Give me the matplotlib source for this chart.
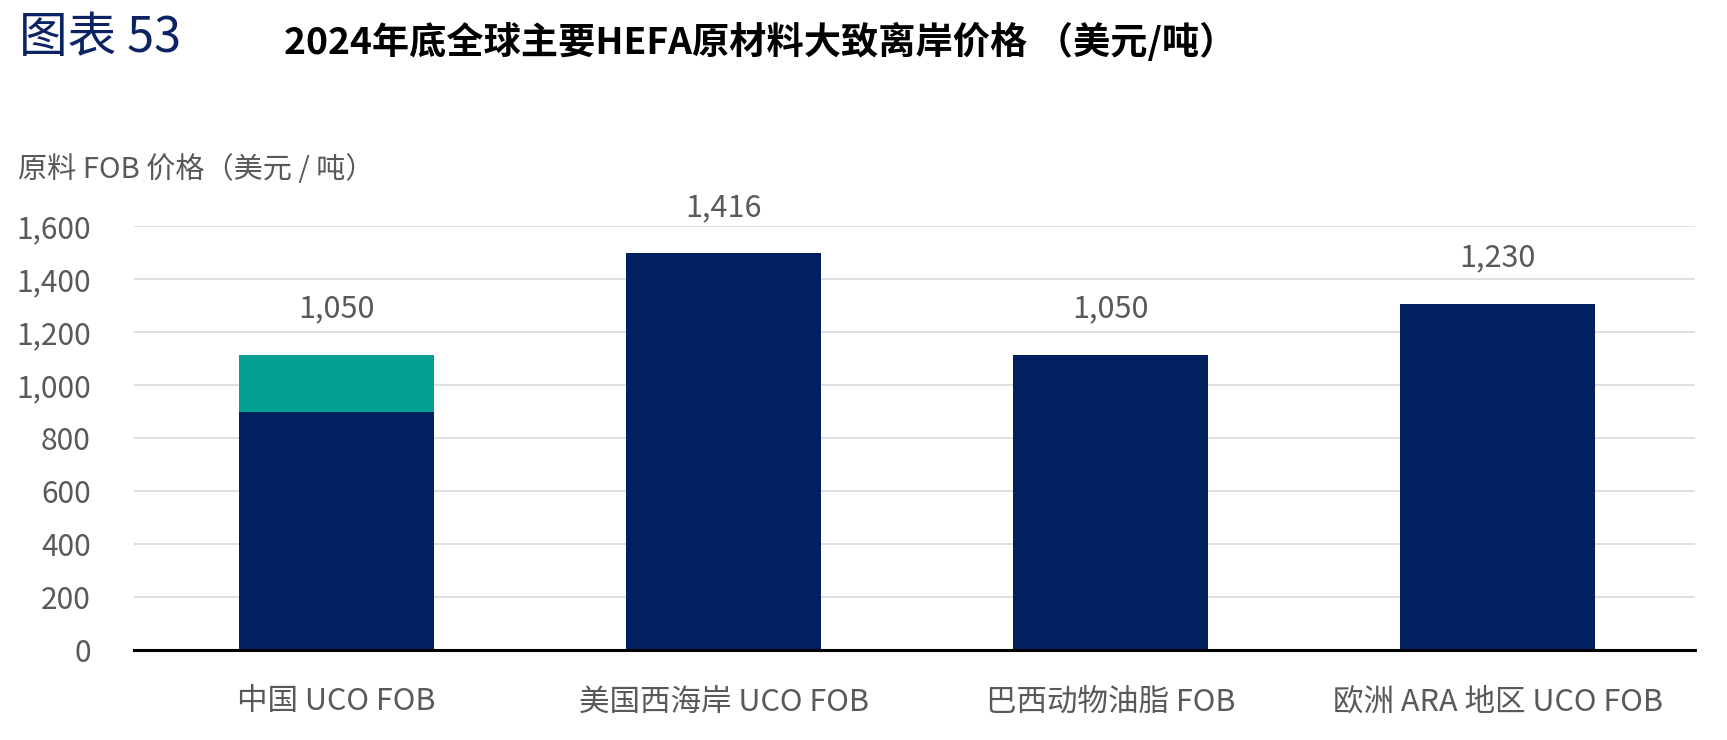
import matplotlib
matplotlib.use("Agg")
import matplotlib.pyplot as plt
from matplotlib.ticker import FuncFormatter

plt.rcParams['font.family'] = ['Noto Sans CJK SC', 'DejaVu Sans']

categories = ["中国 UCO FOB", "美国西海岸 UCO FOB", "巴西动物油脂 FOB", "欧洲 ARA 地区 UCO FOB"]
base_values = [900, 1497, 1115, 1306]
top_values = [215, 0, 0, 0]
label_values = [1050, 1416, 1050, 1230]
yticks = [0, 200, 400, 600, 800, 1000, 1200, 1400, 1600]

navy = "#002060"
teal = "#04A091"
grey = "#595959"

fig = plt.figure(figsize=(17.27, 7.40), dpi=100)
ax = fig.add_axes([0.0776, 0.1212, 0.9039, 0.5734])

x = list(range(len(categories)))
w = 0.504
ax.bar(x, base_values, width=w, color=navy, zorder=3)
ax.bar(x, top_values, width=w, bottom=base_values, color=teal, zorder=3)

totals = [b + t for b, t in zip(base_values, top_values)]
for xi, tot, lab in zip(x, totals, label_values):
    ax.annotate(f"{lab:,}", xy=(xi, tot), xytext=(0, 33), textcoords="offset points",
                ha="center", va="center", fontsize=22, color=grey, annotation_clip=False)

ax.set_xlim(-0.523, 3.51)
ax.set_ylim(0, 1600)
ax.set_yticks(yticks)
ax.yaxis.set_major_formatter(FuncFormatter(lambda v, p: f"{int(v):,}"))
ax.set_xticks(x)
ax.set_xticklabels(categories)
ax.tick_params(axis="y", length=0, pad=31, labelsize=21.5, labelcolor=grey)
ax.tick_params(axis="x", length=0, pad=26, labelsize=22, labelcolor=grey)

ax.grid(axis="y", color="#d9d9d9", linewidth=1.2, zorder=0)
for s in ["top", "right", "left"]:
    ax.spines[s].set_visible(False)
ax.spines["bottom"].set_color("black")
ax.spines["bottom"].set_linewidth(2.2)
ax.spines["bottom"].set_zorder(4)

fig.text(0.011, 1 - 38 / 740, "图表 53", fontsize=35, color="#0B2265",
         ha="left", va="center")
fig.text(0.1645, 1 - 42 / 740, "2024年底全球主要HEFA原材料大致离岸价格 （美元/吨）", fontsize=26.8,
         fontweight="bold", color="black", ha="left", va="center")
fig.text(0.0105, 1 - 170 / 740, "原料 FOB 价格（美元 / 吨）", fontsize=21, color=grey,
         ha="left", va="center")

fig.savefig("out.png", dpi=100, facecolor="white")
